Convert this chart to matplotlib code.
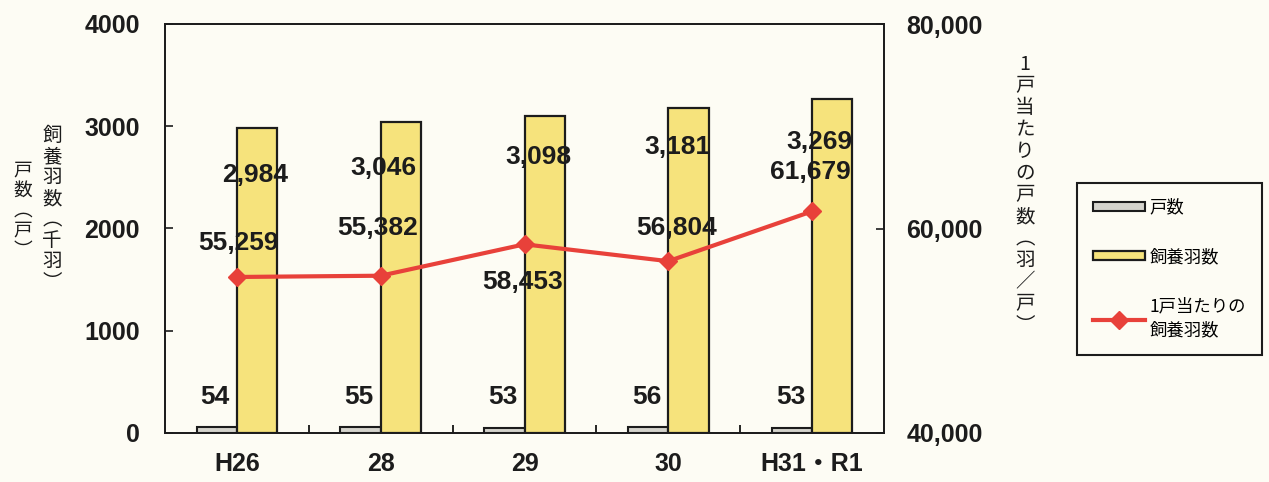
import matplotlib
matplotlib.use('Agg')
from matplotlib import pyplot as plt
from matplotlib.ticker import FuncFormatter, FixedLocator
import numpy as np

# === DATA === #
Years = ['H26', '28', '29', '30', 'H31・R1']
Households = [54, 55, 53, 56, 53]                 # 戸数 (戸)
Birds = [2984, 3046, 3098, 3181, 3269]            # 飼養羽数 (千羽)
BirdsPerHouse = [55259, 55382, 58453, 56804, 61679]  # 1戸当たりの飼養羽数 (羽/戸)

# label anchor positions (left axis data coords)
HouseLblX = [-0.15, 0.85, 1.85, 2.85, 3.85]
HouseLblY = [352, 352, 352, 352, 352]
BirdLblX = [0.13, 1.02, 2.10, 3.06, 4.05]
BirdLblY = [2523, 2592, 2699, 2797, 2846]
PerLblX = [0.01, 0.98, 1.99, 3.06, 3.99]
PerLblY = [1858, 2005, 1477, 2005, 2553]

# === STYLE === #
BG = '#fdfcf4'
YELLOW = '#f6e37c'
GREY = '#d4d3cc'
RED = '#e8413a'
INK = '#1c1c1c'
NUMFONT = ['Liberation Sans', 'Noto Sans CJK JP']
JPFONT = ['Noto Sans CJK JP', 'DejaVu Sans']
BarW = 0.28

plt.rcParams['font.family'] = NUMFONT

fig = plt.figure(figsize=(12.69, 4.82), dpi=100, facecolor=BG)
ax1 = fig.add_axes([165/1269, 49/482, 719/1269, 409/482])
ax1.set_facecolor(BG)
ax2 = ax1.twinx()

x = np.arange(len(Years))
b1 = ax1.bar(x - BarW/2, Households, BarW, color=GREY, edgecolor=INK, linewidth=1.5, label='戸数')
b2 = ax1.bar(x + BarW/2, Birds, BarW, color=YELLOW, edgecolor=INK, linewidth=1.6, label='飼養羽数')
ln, = ax2.plot(x, BirdsPerHouse, color=RED, linewidth=3, marker='D', markersize=9,
               label='1戸当たりの\n飼養羽数')

ax1.set_xlim(-0.5, len(Years) - 0.5)
ax1.set_ylim(0, 4000)
ax2.set_ylim(40000, 80000)
ax1.set_yticks([0, 1000, 2000, 3000, 4000])
ax2.set_yticks([40000, 60000, 80000])
ax2.yaxis.set_major_formatter(FuncFormatter(lambda v, p: f'{int(v):,}'))

ax1.set_xticks(x)
ax1.set_xticklabels(Years, fontweight='bold')
ax1.xaxis.set_minor_locator(FixedLocator(x[:-1] + 0.5))
ax1.tick_params(axis='x', which='major', length=0, pad=14, labelsize=18, colors=INK)
ax1.tick_params(axis='x', which='minor', direction='in', length=6, width=1.2)
ax1.tick_params(axis='y', direction='in', length=6, width=1.2, pad=18, labelsize=18, colors=INK)
ax2.tick_params(axis='y', direction='in', length=6, width=1.2, pad=16, labelsize=18, colors=INK)
for t in ax1.get_yticklabels() + ax2.get_yticklabels():
    t.set_fontweight('bold')

for a in (ax1, ax2):
    for s in a.spines.values():
        s.set_linewidth(1.3)
        s.set_color(INK)

# data labels
for i in range(len(Years)):
    ax2.text(HouseLblX[i], HouseLblY[i], str(Households[i]), transform=ax1.transData,
             ha='center', va='center', fontsize=19, fontweight='bold', color=INK)
    ax2.text(BirdLblX[i], BirdLblY[i], f'{Birds[i]:,}', transform=ax1.transData,
             ha='center', va='center', fontsize=19, fontweight='bold', color=INK)
    ax2.text(PerLblX[i], PerLblY[i], f'{BirdsPerHouse[i]:,}', transform=ax1.transData,
             ha='center', va='center', fontsize=19, fontweight='bold', color=INK)

# vertical axis titles
def vtext(px, py, s, size, ls):
    fig.text(px/1269, 1 - py/482, '\n'.join(s), ha='center', va='center',
             fontsize=size, linespacing=ls, family=JPFONT, color=INK)

vtext(23, 210, '戸数︵戸︶', 13.5, 0.95)
vtext(52, 209, '飼養羽数︵千羽︶', 14, 1.0)
vtext(1025, 195, '1戸当たりの戸数︵羽／戸︶', 14, 1.05)

leg = fig.legend(handles=[b1, b2, ln], loc='upper right',
                 bbox_to_anchor=(1262/1269, 1 - 183/482), prop={'family': JPFONT, 'size': 12.5},
                 frameon=True, fancybox=False, edgecolor=INK, facecolor=BG, framealpha=1,
                 handlelength=3.0, handleheight=0.45, handletextpad=0.3, labelspacing=1.8,
                 borderpad=0.9, borderaxespad=0, numpoints=1)
leg.get_frame().set_linewidth(1.5)
for t in leg.get_texts():
    t.set_linespacing(1.45)

fig.savefig('out.png', dpi=100, facecolor=BG)
